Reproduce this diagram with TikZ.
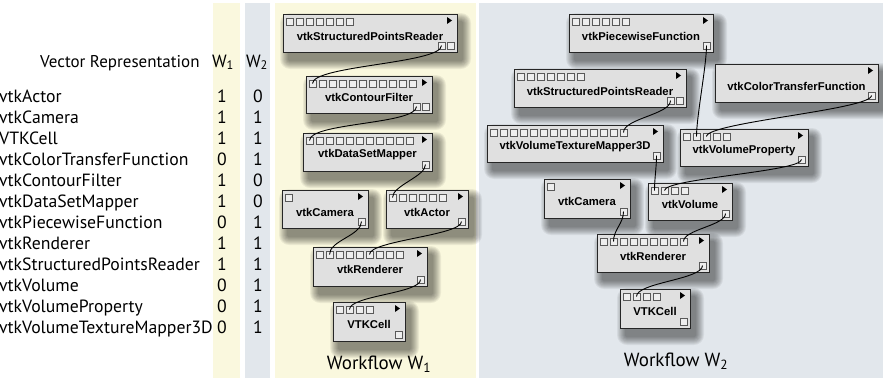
\documentclass[tikz,border=0pt]{standalone}
\usepackage{fontspec}
\setmainfont{PT Sans}
\newfontfamily\boxfont{Liberation Sans}
\usetikzlibrary{calc}

\definecolor{wfyellow}{RGB}{250,248,222}
\definecolor{wfgray}{RGB}{226,231,236}
\definecolor{boxfill}{RGB}{224,224,224}
\definecolor{portfill}{RGB}{238,238,238}

\pgfdeclarelayer{panels}
\pgfdeclarelayer{shade}
\pgfsetlayers{panels,shade,main}

\tikzset{
  modbody/.style={draw=black!85, fill=boxfill, line width=1.1pt, inner sep=0pt},
  modlabel/.style={font=\boxfont\bfseries\fontsize{11.3}{13}\selectfont, inner sep=0pt},
  port/.style={draw=black!65, fill=portfill, line width=0.6pt, minimum size=7pt, inner sep=0pt},
  outarrow/.style={fill=black},
  wire/.style={draw=black, line width=0.9pt},
  listtext/.style={font=\fontsize{17.7}{21}\selectfont, inner sep=0pt},
  headtext/.style={font=\fontsize{17}{21}\selectfont, inner sep=0pt},
  wftext/.style={font=\fontsize{19}{23}\selectfont, inner sep=0pt},
}

% module box: name, left, top, right, bottom, label, inputs, outputs
\newcommand{\modbox}[8]{%
  \begin{pgfonlayer}{shade}
    \foreach \k [evaluate=\k as \rc using \k+2] in {0,...,8}{
      \fill[black, opacity=0.06, rounded corners=\rc pt]
        (#2+5-\k, #3+7-\k) rectangle (#4+6+\k, #5+9+\k);
    }
  \end{pgfonlayer}
  \node[modbody, minimum width=#4-#2, minimum height=#5-#3, anchor=north west] (#1) at (#2,#3) {};
  \node[modlabel] (#1-lbl) at ({(#2+#4)/2}, {(#3+#5)/2+3}) {#6};
  \fill[outarrow] (#4-10, #3+3) -- (#4-10, #3+10) -- (#4-5, #3+6.5) -- cycle;
  \ifnum#7>0
    \foreach \i in {1,...,#7}{
      \node[port] (#1-i\i) at (#2+6.5+10*\i-10, #3+7.5) {};
    }
  \fi
  \foreach \j in {1,...,#8}{
    \node[port] (#1-o\j) at (#4-6.5-9*#8+9*\j, #5-6.5) {};
  }
}

\begin{document}
\begin{tikzpicture}[x=1pt, y=-1pt]
\useasboundingbox (0,0) rectangle (883,381);

\begin{pgfonlayer}{panels}
  \fill[white] (0,0) rectangle (883,381);
  \fill[wfyellow] (213,3) rectangle (240,378);
  \fill[wfgray] (245,3) rectangle (270,378);
  \fill[wfyellow] (275,3) rectangle (476,378);
  \fill[wfgray] (479,3) rectangle (883,378);
\end{pgfonlayer}

% vector table
\node[headtext, anchor=base west] (vechead) at (40,67) {Vector Representation};
\node[listtext, anchor=base] (colA) at (223,67) {W\textsubscript{1}};
\node[listtext, anchor=base] (colB) at (257,67) {W\textsubscript{2}};
\foreach \nm/\a/\b [count=\r from 0] in {
  vtkActor/1/0, vtkCamera/1/1, VTKCell/1/1, vtkColorTransferFunction/0/1,
  vtkContourFilter/1/0, vtkDataSetMapper/1/0, vtkPiecewiseFunction/0/1,
  vtkRenderer/1/1, vtkStructuredPointsReader/1/1, vtkVolume/0/1,
  vtkVolumeProperty/0/1, vtkVolumeTextureMapper3D/0/1}{
  \node[listtext, anchor=base west] (row\r) at (-1, 102+21*\r) {\nm};
  \node[listtext, anchor=base] (va\r) at (222, 102+21*\r) {\a};
  \node[listtext, anchor=base] (vb\r) at (258, 102+21*\r) {\b};
}

% workflow 1
\modbox{aspr}{283}{14}{457}{52}{vtkStructuredPointsReader}{7}{2}
\modbox{acf}{306}{76}{432}{113}{vtkContourFilter}{11}{2}
\modbox{adsm}{303}{133}{432}{171}{vtkDataSetMapper}{11}{1}
\modbox{acam}{282}{190}{368}{228}{vtkCamera}{1}{1}
\modbox{aact}{386}{190}{468}{228}{vtkActor}{6}{1}
\modbox{aren}{313}{247}{427}{286}{vtkRenderer}{9}{1}
\modbox{acell}{333}{302}{405}{341}{VTKCell}{4}{1}

\draw[wire] (aspr-o1.center) .. controls +(0,18) and +(0,-18) .. (acf-i1.center);
\draw[wire] (acf-o1.center) .. controls +(0,18) and +(0,-18) .. (adsm-i1.center);
\draw[wire] (adsm-o1.center) .. controls +(0,12) and +(0,-12) .. (aact-i1.center);
\draw[wire] (acam-o1.center) .. controls +(0,14) and +(0,-14) .. (aren-i2.center);
\draw[wire] (aact-o1.center) .. controls +(0,14) and +(0,-14) .. (aren-i6.center);
\draw[wire] (aren-o1.center) .. controls +(0,14) and +(0,-14) .. (acell-i2.center);

\node[wftext, anchor=base] (wfa) at (379,369) {Workflow W\textsubscript{1}};

% workflow 2
\modbox{bpf}{569}{14}{713}{52}{vtkPiecewiseFunction}{6}{1}
\modbox{bspr}{514}{69}{686}{107}{vtkStructuredPointsReader}{7}{2}
\modbox{bctf}{715}{64}{878}{102}{vtkColorTransferFunction}{0}{1}
\modbox{bvtm}{487}{125}{663}{162}{vtkVolumeTextureMapper3D}{14}{1}
\modbox{bvp}{680}{129}{808}{166}{vtkVolumeProperty}{5}{1}
\modbox{bcam}{544}{179}{630}{218}{vtkCamera}{1}{1}
\modbox{bvol}{648}{183}{732}{220}{vtkVolume}{4}{1}
\modbox{bren}{597}{234}{709}{272}{vtkRenderer}{9}{1}
\modbox{bcell}{620}{289}{690}{328}{VTKCell}{4}{1}

\draw[wire] (bspr-o1.center) .. controls +(0,14) and +(0,-14) .. (bvtm-i14.center);
\draw[wire] (bvtm-o1.center) .. controls +(0,12) and +(0,-12) .. (bvol-i1.center);
\draw[wire] (bpf-o1.center) .. controls +(0,20) and +(0,-20) .. (bvp-i2.center);
\draw[wire] (bctf-o1.center) .. controls +(0,14) and +(0,-14) .. (bvp-i3.center);
\draw[wire] (bvp-o1.center) .. controls +(0,12) and +(0,-12) .. (bvol-i2.center);
\draw[wire] (bcam-o1.center) .. controls +(0,12) and +(0,-12) .. (bren-i2.center);
\draw[wire] (bvol-o1.center) .. controls +(0,12) and +(0,-12) .. (bren-i9.center);
\draw[wire] (bren-o1.center) .. controls +(0,14) and +(0,-14) .. (bcell-i2.center);

\node[wftext, anchor=base] (wfb) at (676,366) {Workflow W\textsubscript{2}};
\end{tikzpicture}
\end{document}
